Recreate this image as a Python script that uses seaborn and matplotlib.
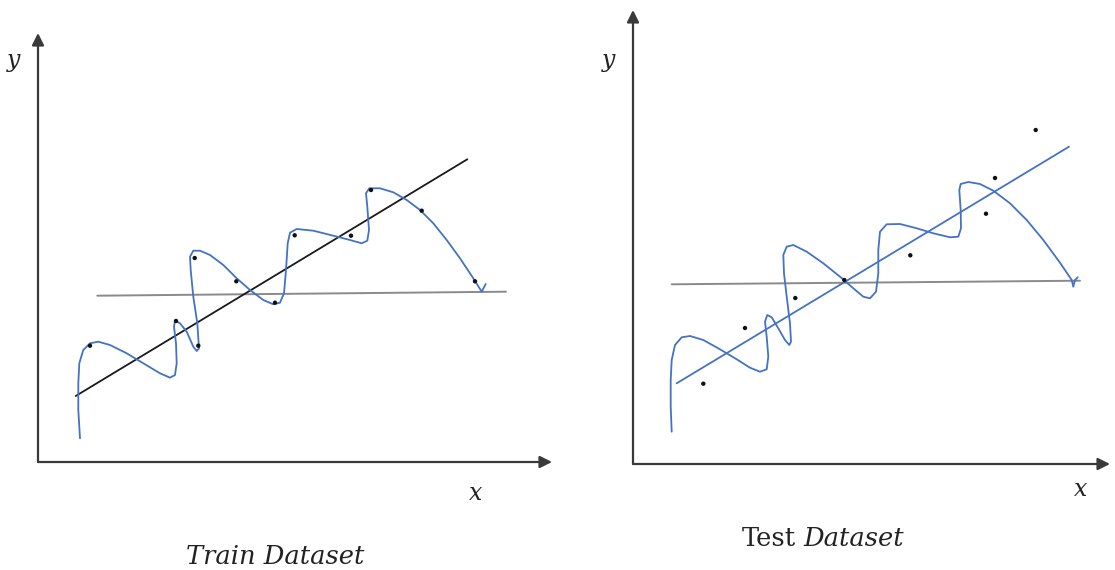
import numpy as np
import pandas as pd
import matplotlib.pyplot as plt
import seaborn as sns

# Values, in picture pixel units (y grows downward)
# ---- Train dataset panel ----
train_pts_x = [90, 176, 198.3, 194.7, 236.3, 275, 294.7, 351, 371, 421.7, 475]
train_pts_y = [345.7, 321, 345.7, 258, 281.3, 302.7, 235.3, 235.7, 190, 210.7, 281.3]

train_fit_x = [75.7, 467.3]          # regression line (good fit)
train_fit_y = [396, 159.3]
train_flat_x = [97.3, 506]           # underfit line
train_flat_y = [295.7, 291.7]

train_curve_x = [80, 78.3, 78.3, 79.3, 83.3, 90, 98.3, 110, 126.7, 143.3, 160, 170, 175,
                 176.7, 176, 174, 175, 180, 186.7, 193.3, 196.7, 199, 197.3, 193.3, 190.7,
                 190, 193.3, 200, 210, 223.3, 236.7, 250, 263.3, 273.3, 280, 284, 286,
                 287.7, 290, 296.7, 313.3, 333.3, 350, 361.7, 367.3, 369, 367.3, 366,
                 369.3, 380, 393.3, 406.7, 420, 433.3, 446.7, 460, 473.3, 481.7, 485.7]
train_curve_y = [438.3, 410, 383.3, 363.3, 350, 343.3, 341.7, 345, 353.3, 363.3, 373.3,
                 377.7, 375, 363.3, 343.3, 326.7, 320.7, 323.3, 331.7, 346.7, 351, 348.3,
                 323.3, 296.7, 270, 256.7, 250.7, 250.7, 255, 265, 278.3, 290, 300, 304.3,
                 302.7, 293.3, 270, 243.3, 232.7, 229, 230.7, 235.7, 240, 243.3, 240.7,
                 230, 206.7, 193.3, 188.3, 188.3, 192.3, 200, 210, 223.3, 240, 258.3,
                 278.3, 291.7, 284]

# ---- Test dataset panel ----
test_pts_x = [703.3, 745, 795.3, 844.3, 910.3, 986, 995, 1035.7]
test_pts_y = [383.7, 328, 298, 280, 255.3, 213.7, 178, 130]

test_fit_x = [676.7, 1069]
test_fit_y = [383.3, 146.7]
test_flat_x = [671.7, 1080]
test_flat_y = [284.3, 280.7]

test_curve_x = [671.7, 670.7, 670.7, 671.7, 675, 681.7, 690, 703.3, 720, 736.7, 750, 760,
                766.7, 768.3, 766.7, 765, 767.3, 771.7, 778.3, 785, 789.3, 791, 790, 786.7,
                784, 783.3, 786.7, 793.3, 806.7, 823.3, 840, 853.3, 863.3, 870, 876, 878.3,
                878.3, 880, 886.7, 900, 916.7, 933.3, 950, 958.3, 961, 960.7, 959.3, 960.7,
                968.3, 980, 993.3, 1010, 1026.7, 1043.3, 1060, 1071.7, 1073.3, 1075, 1077.7]
test_curve_y = [431.7, 406.7, 380, 360, 345, 337.3, 336, 340, 349.3, 359.3, 367.7, 371.7,
                369.3, 356.7, 336.7, 321.7, 315, 317.3, 328.3, 340, 345, 341.7, 323.3,
                296.7, 273.3, 255, 246.7, 245, 251.7, 263.3, 276.7, 288.3, 296.7, 298.3,
                291.7, 273.3, 250, 231.7, 224.3, 224, 228.3, 233.3, 237.3, 236.7, 228.3,
                210, 190, 184, 182, 184, 190.7, 203.3, 220, 240, 262.7, 280, 286.7, 280,
                277.3]

BLUE = '#4472c4'
AXIS = '#3a3a3a'
W, H = 1115, 570

sns.set_style('white')
plt.rcParams['font.family'] = ['DejaVu Serif']

fig = plt.figure(figsize=(W / 100, H / 100), dpi=100)


def make_panel(x0, x1, y_bottom, y_top):
    ax = fig.add_axes([x0 / W, 1 - y_bottom / H, (x1 - x0) / W, (y_bottom - y_top) / H])
    ax.set_xlim(x0, x1)
    ax.set_ylim(y_bottom, y_top)
    for s in ax.spines.values():
        s.set_visible(False)
    ax.set_xticks([])
    ax.set_yticks([])
    ax.patch.set_alpha(0)
    arrow = dict(arrowstyle='-|>', color=AXIS, lw=1.6, mutation_scale=18, shrinkA=0, shrinkB=0)
    ax.annotate('', xy=(1, 0), xytext=(0, 0), xycoords='axes fraction', arrowprops=arrow)
    ax.annotate('', xy=(0, 1), xytext=(0, 0), xycoords='axes fraction', arrowprops=arrow)
    return ax


def draw(ax, cx, cy, fx, fy, fit_color, lx, ly, px, py):
    sns.lineplot(x=lx, y=ly, ax=ax, color='#8a8a8a', lw=1.4, sort=False, estimator=None)
    sns.lineplot(x=fx, y=fy, ax=ax, color=fit_color, lw=1.3, sort=False, estimator=None)
    sns.lineplot(x=cx, y=cy, ax=ax, color=BLUE, lw=1.3, sort=False, estimator=None,
                 solid_joinstyle='round')
    sns.scatterplot(x=px, y=py, ax=ax, color='#111111', s=10, edgecolor='none', zorder=5)


ax1 = make_panel(38, 552, 462, 33)
draw(ax1, train_curve_x, train_curve_y, train_fit_x, train_fit_y, '#1a1a1a',
     train_flat_x, train_flat_y, train_pts_x, train_pts_y)

ax2 = make_panel(633, 1110, 464, 10)
draw(ax2, test_curve_x, test_curve_y, test_fit_x, test_fit_y, BLUE,
     test_flat_x, test_flat_y, test_pts_x, test_pts_y)

lab = dict(fontsize=17, style='italic', color='#222222', ha='center', va='center')
fig.text(14 / W, 1 - 60 / H, 'y', **lab)
fig.text(609 / W, 1 - 60 / H, 'y', **lab)
fig.text(476 / W, 1 - 493 / H, 'x', **lab)
fig.text(1081 / W, 1 - 489 / H, 'x', **lab)

fig.text(275 / W, 1 - 556 / H, 'Train Dataset', fontsize=18.5, style='italic',
         color='#222222', ha='center', va='center')
fig.text(796 / W, 1 - 539 / H, 'Test', fontsize=18.5, color='#222222', ha='right', va='center')
fig.text(803 / W, 1 - 539 / H, 'Dataset', fontsize=18.5, style='italic', color='#222222',
         ha='left', va='center')

fig.savefig('out.png', dpi=100)
